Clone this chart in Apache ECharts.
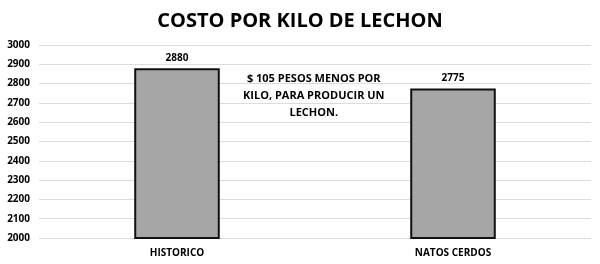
<!DOCTYPE html>
<html>
<head>
<meta charset="utf-8">
<script src="https://cdn.jsdelivr.net/npm/echarts@6/dist/echarts.min.js"></script>
<style>
  html, body { margin: 0; padding: 0; background: #fff; }
  #chart { width: 600px; height: 264px; }
</style>
</head>
<body>
<div id="chart"></div>
<script>
var categories = ["HISTORICO", "NATOS CERDOS"];
var costs = [2880, 2775];
var note = ["$ 105 PESOS MENOS POR", "KILO, PARA PRODUCIR UN", "LECHON."];

var font = "'Open Sans', 'Noto Sans', sans-serif";
var chart = echarts.init(document.getElementById("chart"), null, { renderer: "canvas" });

chart.setOption({
  backgroundColor: "#fff",
  animation: false,
  title: {
    text: "COSTO POR KILO DE LECHON",
    left: "center",
    top: 6,
    textStyle: { fontFamily: font, fontSize: 20, fontWeight: "bold", color: "#000" }
  },
  grid: { left: 39, right: 9, top: 45, bottom: 26 },
  xAxis: {
    type: "category",
    data: categories,
    axisLine: { show: false },
    axisTick: { show: false },
    axisLabel: { fontFamily: font, fontSize: 10, fontWeight: "bold", color: "#000", margin: 10 }
  },
  yAxis: {
    type: "value",
    min: 2000,
    max: 3000,
    interval: 100,
    axisLine: { show: false },
    axisTick: { show: false },
    axisLabel: {
      fontFamily: font, fontSize: 10, fontWeight: "bold", color: "#000", margin: 9,
      formatter: function (val) { return String(val); }
    },
    splitLine: { lineStyle: { color: "#dcdcdc", width: 1 } }
  },
  graphic: [{
    type: "text",
    left: 243,
    top: 70,
    style: {
      text: note.join("\n"),
      fontFamily: font,
      fontSize: 11,
      fontWeight: "bold",
      fill: "#000",
      textAlign: "center",
      lineHeight: 17
    }
  }],
  series: [{
    type: "bar",
    data: costs,
    barWidth: "31%",
    itemStyle: { color: "#a6a6a6", borderColor: "#111", borderWidth: 2 },
    label: {
      show: true,
      position: "top",
      distance: 5,
      fontFamily: font,
      fontSize: 10,
      fontWeight: "bold",
      color: "#000"
    }
  }]
});
</script>
</body>
</html>
